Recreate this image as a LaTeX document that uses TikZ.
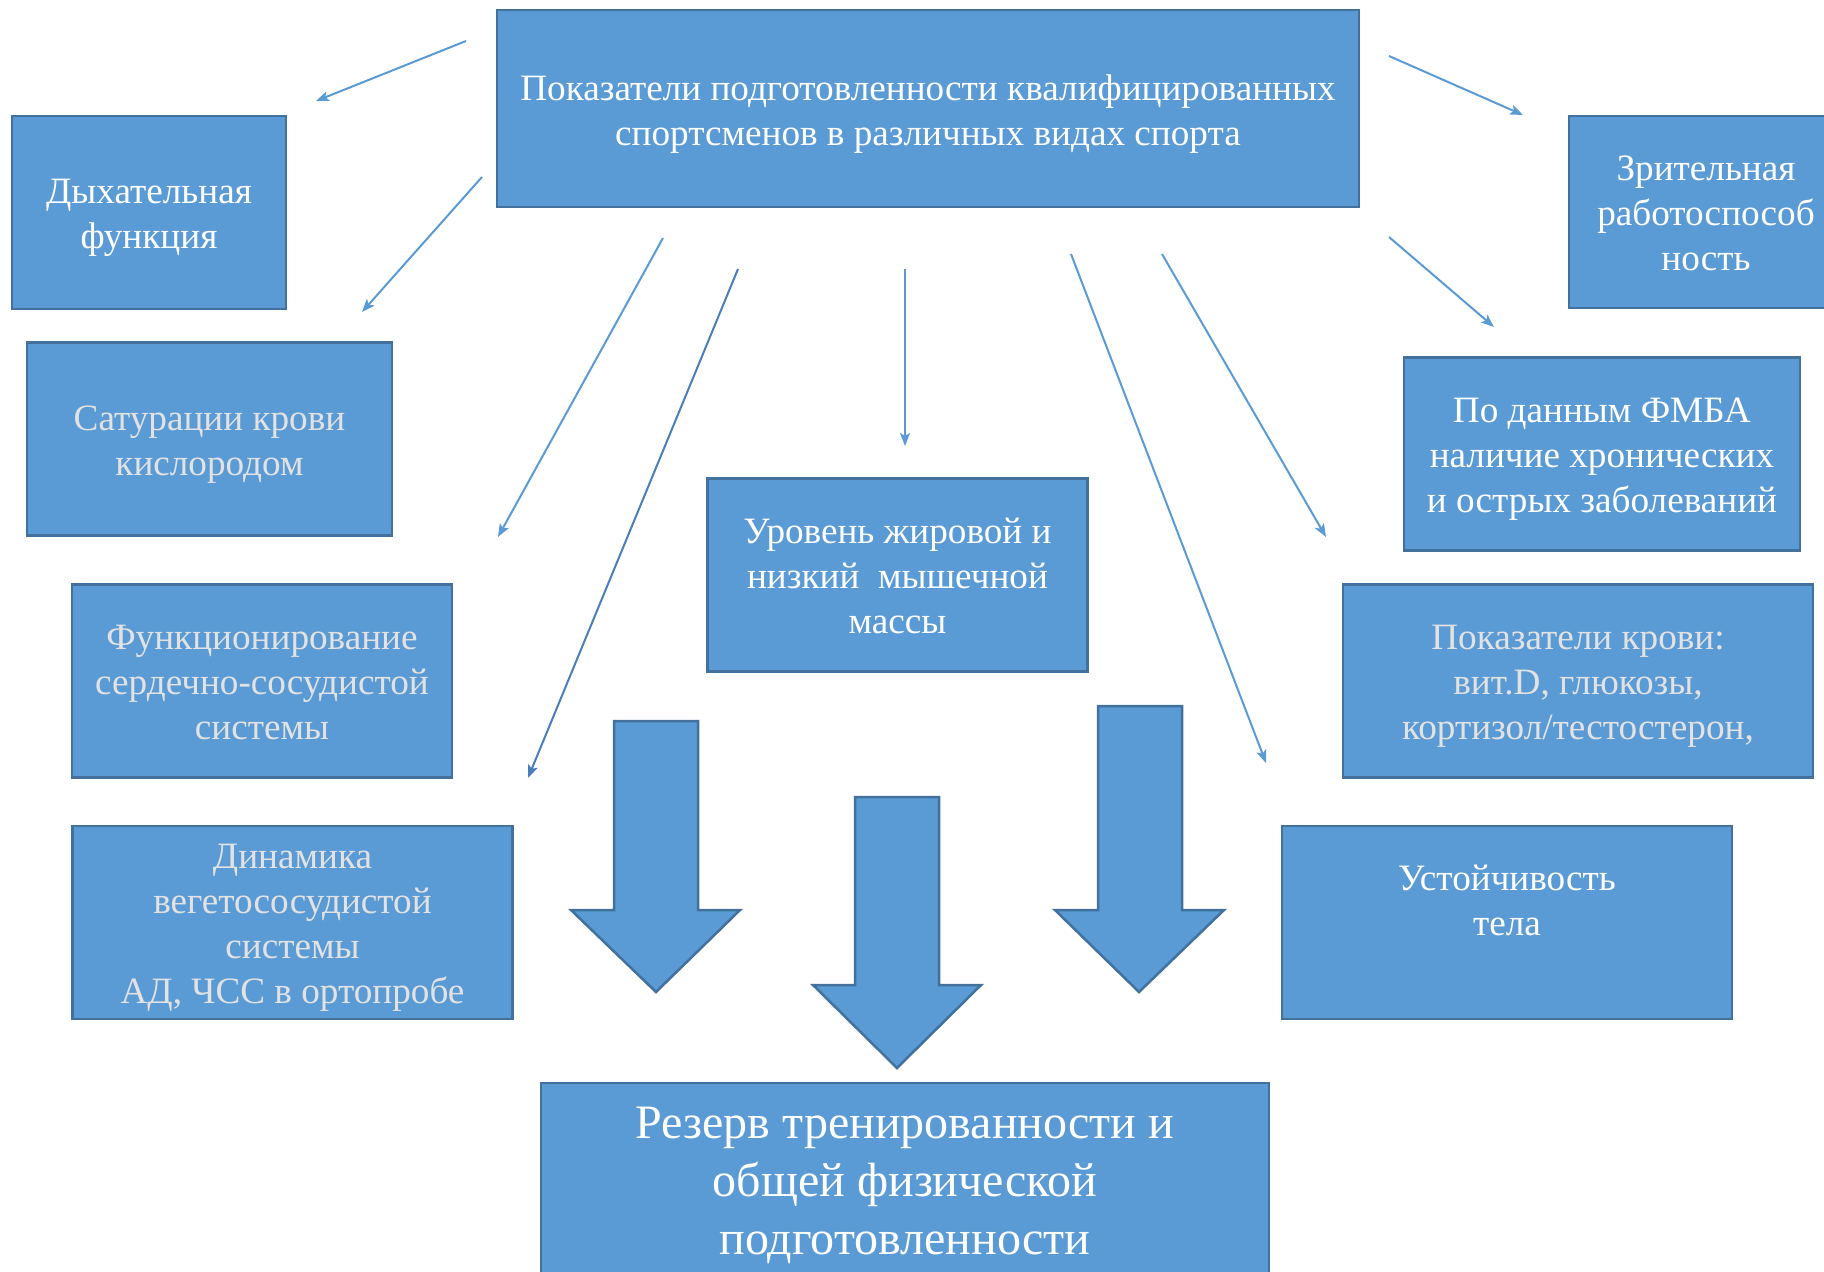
\documentclass[tikz,border=0pt]{standalone}
\usepackage{fontspec}
\setmainfont{Liberation Serif}
\usetikzlibrary{arrows.meta}
\definecolor{fillc}{HTML}{5B9BD5}
\definecolor{bordc}{HTML}{41719C}
\definecolor{txtgrey}{HTML}{E2E2E2}
\definecolor{arrc}{HTML}{5B9BD5}
\definecolor{arrdark}{HTML}{4A7EBB}
\tikzset{
  boxshape/.style={draw=bordc, line width=2.5pt, fill=fillc, inner sep=0pt},
  boxtext/.style={align=center, inner sep=0pt, font=\fontsize{37.2}{45}\selectfont, text=white},
  greytxt/.style={text=txtgrey},
  thin/.style={draw=arrc, line width=2pt, -{Stealth[length=13pt,width=10pt,inset=3pt]}},
  blockarrow/.style={draw=bordc, line width=2.5pt, fill=fillc, line join=miter}
}
\begin{document}
\begin{tikzpicture}[x=1pt,y=-1pt]
\useasboundingbox (0,0) rectangle (1824,1272);
\clip (0,0) rectangle (1824,1272);
\fill[white] (0,0) rectangle (1824,1272);

\node[boxshape, minimum width=862, minimum height=197] (top) at (928,108.5) {};
\node[boxtext] (top-t) at ([yshift=-6pt]top.center)
  {Показатели подготовленности квалифицированных\\спортсменов в различных видах спорта};
\node[boxshape, minimum width=274, minimum height=193] (dyh) at (149,212.5) {};
\node[boxtext] (dyh-t) at ([yshift=-5pt]dyh.center) {Дыхательная\\функция};
\node[boxshape, minimum width=365, minimum height=193] (sat) at (209.5,439) {};
\node[boxtext, greytxt] (sat-t) at ([yshift=-6pt]sat.center) {Сатурации крови\\кислородом};
\node[boxshape, minimum width=380, minimum height=193] (fun) at (262,681) {};
\node[boxtext, greytxt] (fun-t) at ([yshift=-1pt]fun.center) {Функционирование\\сердечно-сосудистой\\системы};
\node[boxshape, minimum width=440, minimum height=193] (din) at (292.5,922.5) {};
\node[boxtext, greytxt] (din-t) at ([yshift=-5pt]din.center) {Динамика\\вегетососудистой\\системы\\АД, ЧСС в ортопробе};
\node[boxshape, minimum width=380, minimum height=193] (ur) at (897.5,575) {};
\node[boxtext] (ur-t) at ([yshift=-1pt]ur.center) {Уровень жировой и\\низкий\ \ мышечной\\массы};
\node[boxshape, minimum width=274, minimum height=192] (zr) at (1706,212) {};
\node[boxtext] (zr-t) at ([yshift=-1pt]zr.center) {Зрительная\\работоспособ\\ность};
\node[boxshape, minimum width=396, minimum height=193] (fmba) at (1602,454) {};
\node[boxtext] (fmba-t) at ([yshift=-5pt]fmba.center) {По данным ФМБА\\наличие хронических\\и острых заболеваний};
\node[boxshape, minimum width=470, minimum height=193] (krov) at (1578,681) {};
\node[boxtext, greytxt] (krov-t) at ([yshift=-5pt]krov.center) {Показатели крови:\\вит.D, глюкозы,\\кортизол/тестостерон,};
\node[boxshape, minimum width=450, minimum height=193] (ust) at (1507,922.5) {};
\node[boxtext] (ust-t) at ([yshift=22pt]ust.center) {Устойчивость\\тела};
\node[boxshape, minimum width=728, minimum height=198] (rez) at (905,1182) {};
\node[boxtext, font=\fontsize{48}{58}\selectfont] (rez-t) at ([yshift=-3pt]rez.center)
  {Резерв тренированности и\\общей физической\\подготовленности};

% block arrows
\path[blockarrow] (614,721) -- (698,721) -- (698,910) -- (740,910) -- (656,992) -- (571,910) -- (614,910) -- cycle;
\path[blockarrow] (855,797) -- (939,797) -- (939,985) -- (981,985) -- (897,1068) -- (813,985) -- (855,985) -- cycle;
\path[blockarrow] (1098,706) -- (1182,706) -- (1182,910) -- (1224,910) -- (1139,992) -- (1055,910) -- (1098,910) -- cycle;

% thin arrows
\coordinate (a1s) at (466,41);   \coordinate (a1e) at (316,101);
\coordinate (a2s) at (482,177);  \coordinate (a2e) at (362,312);
\coordinate (a3s) at (663,238);  \coordinate (a3e) at (498,537);
\coordinate (a4s) at (738,269);  \coordinate (a4e) at (528,778);
\coordinate (a5s) at (905,269);  \coordinate (a5e) at (905,446);
\coordinate (a6s) at (1071,254); \coordinate (a6e) at (1266,763);
\coordinate (a7s) at (1162,254); \coordinate (a7e) at (1326,537);
\coordinate (a8s) at (1389,56);  \coordinate (a8e) at (1523,115);
\coordinate (a9s) at (1389,237); \coordinate (a9e) at (1494,327);
\draw[thin] (a1s) -- (a1e);
\draw[thin] (a2s) -- (a2e);
\draw[thin] (a3s) -- (a3e);
\draw[thin, draw=arrdark] (a4s) -- (a4e);
\draw[thin] (a5s) -- (a5e);
\draw[thin] (a6s) -- (a6e);
\draw[thin] (a7s) -- (a7e);
\draw[thin] (a8s) -- (a8e);
\draw[thin] (a9s) -- (a9e);
\end{tikzpicture}
\end{document}
